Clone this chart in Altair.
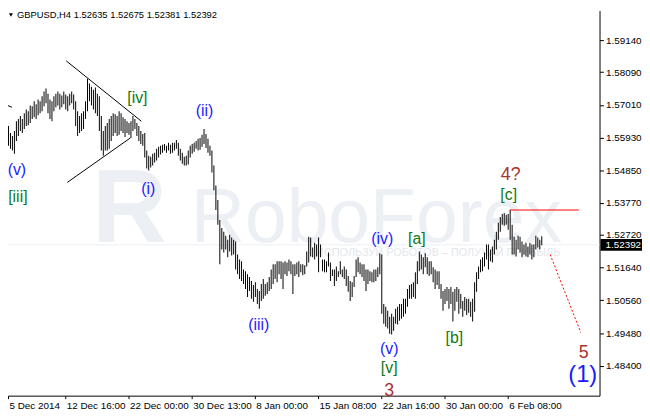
import altair as alt
import pandas as pd

# ---- data (GBPUSD H4 bars) ----
highs = [
    1.5696, 1.5680, 1.5654, 1.5631, 1.5608, 1.5598, 1.5615, 1.5647, 1.5654, 1.5664,
    1.5654, 1.5673, 1.5686, 1.5680, 1.5699, 1.5696, 1.5713, 1.5703, 1.5719, 1.5713,
    1.5729, 1.5745, 1.5755, 1.5738, 1.5719, 1.5713, 1.5729, 1.5738, 1.5745, 1.5738,
    1.5732, 1.5745, 1.5735, 1.5729, 1.5738, 1.5745, 1.5735, 1.5713, 1.5680, 1.5664,
    1.5673, 1.5680, 1.5713, 1.5787, 1.5771, 1.5761, 1.5751, 1.5758, 1.5738, 1.5729,
    1.5664, 1.5615, 1.5631, 1.5641, 1.5654, 1.5664, 1.5673, 1.5670, 1.5664, 1.5680,
    1.5673, 1.5660, 1.5654, 1.5647, 1.5641, 1.5647, 1.5664, 1.5654, 1.5641, 1.5631,
    1.5615, 1.5605, 1.5608, 1.5550, 1.5533, 1.5530, 1.5540, 1.5543, 1.5556, 1.5563,
    1.5566, 1.5569, 1.5572, 1.5566, 1.5576, 1.5569, 1.5576, 1.5576, 1.5585, 1.5576,
    1.5556, 1.5543, 1.5530, 1.5533, 1.5550, 1.5566, 1.5572, 1.5576, 1.5582, 1.5589,
    1.5592, 1.5602, 1.5621, 1.5605, 1.5589, 1.5566, 1.5550, 1.5501, 1.5435, 1.5387,
    1.5321, 1.5295, 1.5282, 1.5269, 1.5256, 1.5272, 1.5263, 1.5256, 1.5250, 1.5207,
    1.5191, 1.5185, 1.5158, 1.5152, 1.5142, 1.5133, 1.5120, 1.5107, 1.5116, 1.5093,
    1.5087, 1.5110, 1.5126, 1.5110, 1.5116, 1.5133, 1.5158, 1.5175, 1.5175, 1.5185,
    1.5185, 1.5185, 1.5181, 1.5185, 1.5181, 1.5191, 1.5185, 1.5175, 1.5175, 1.5181,
    1.5185, 1.5175, 1.5175, 1.5172, 1.5217, 1.5266, 1.5263, 1.5230, 1.5246, 1.5240,
    1.5263, 1.5240, 1.5191, 1.5191, 1.5185, 1.5214, 1.5181, 1.5158, 1.5158, 1.5168,
    1.5152, 1.5185, 1.5158, 1.5168, 1.5158, 1.5136, 1.5120, 1.5116, 1.5136, 1.5191,
    1.5198, 1.5181, 1.5175, 1.5175, 1.5158, 1.5158, 1.5152, 1.5149, 1.5158, 1.5158,
    1.5165, 1.5211, 1.5207, 1.5044, 1.5035, 1.5022, 1.5002, 1.5012, 1.5002, 1.5028,
    1.5035, 1.5044, 1.5044, 1.5061, 1.5061, 1.5093, 1.5107, 1.5110, 1.5116, 1.5149,
    1.5185, 1.5217, 1.5207, 1.5198, 1.5211, 1.5198, 1.5185, 1.5185, 1.5165, 1.5158,
    1.5152, 1.5152, 1.5110, 1.5087, 1.5093, 1.5100, 1.5093, 1.5100, 1.5084, 1.5093,
    1.5100, 1.5093, 1.5077, 1.5054, 1.5067, 1.5061, 1.5061, 1.5051, 1.5061, 1.5116,
    1.5149, 1.5168, 1.5191, 1.5198, 1.5214, 1.5240, 1.5240, 1.5224, 1.5234, 1.5256,
    1.5282, 1.5312, 1.5331, 1.5341, 1.5344, 1.5338, 1.5341, 1.5354, 1.5305, 1.5266,
    1.5256, 1.5269, 1.5266, 1.5250, 1.5240, 1.5246, 1.5234, 1.5246, 1.5240, 1.5240,
    1.5269, 1.5263, 1.5256, 1.52675,
]
lows = [
    1.5631, 1.5598, 1.5582, 1.5566, 1.5556, 1.5550, 1.5540, 1.5582, 1.5598, 1.5615,
    1.5608, 1.5621, 1.5631, 1.5634, 1.5641, 1.5654, 1.5660, 1.5654, 1.5667, 1.5673,
    1.5680, 1.5696, 1.5706, 1.5673, 1.5654, 1.5647, 1.5680, 1.5693, 1.5699, 1.5686,
    1.5693, 1.5703, 1.5686, 1.5680, 1.5699, 1.5706, 1.5686, 1.5631, 1.5598, 1.5608,
    1.5615, 1.5621, 1.5654, 1.5680, 1.5713, 1.5699, 1.5686, 1.5673, 1.5664, 1.5615,
    1.5550, 1.5533, 1.5550, 1.5550, 1.5556, 1.5582, 1.5598, 1.5608, 1.5598, 1.5602,
    1.5615, 1.5608, 1.5595, 1.5608, 1.5602, 1.5592, 1.5615, 1.5621, 1.5598, 1.5582,
    1.5572, 1.5566, 1.5527, 1.5491, 1.5484, 1.5494, 1.5501, 1.5511, 1.5517, 1.5527,
    1.5537, 1.5543, 1.5550, 1.5543, 1.5550, 1.5540, 1.5543, 1.5550, 1.5556, 1.5533,
    1.5517, 1.5507, 1.5501, 1.5501, 1.5504, 1.5527, 1.5540, 1.5546, 1.5556, 1.5550,
    1.5553, 1.5563, 1.5572, 1.5559, 1.5543, 1.5533, 1.5478, 1.5419, 1.5354, 1.5305,
    1.5175, 1.5224, 1.5214, 1.5224, 1.5198, 1.5217, 1.5204, 1.5207, 1.5158, 1.5142,
    1.5126, 1.5120, 1.5110, 1.5093, 1.5067, 1.5087, 1.5061, 1.5051, 1.5067, 1.5044,
    1.5028, 1.5054, 1.5061, 1.5071, 1.5077, 1.5087, 1.5093, 1.5110, 1.5126, 1.5116,
    1.5142, 1.5126, 1.5093, 1.5142, 1.5136, 1.5152, 1.5142, 1.5077, 1.5136, 1.5142,
    1.5133, 1.5149, 1.5139, 1.5142, 1.5168, 1.5181, 1.5201, 1.5198, 1.5191, 1.5201,
    1.5149, 1.5198, 1.5152, 1.5149, 1.5149, 1.5168, 1.5120, 1.5136, 1.5103, 1.5120,
    1.5133, 1.5142, 1.5133, 1.5126, 1.5103, 1.5084, 1.5054, 1.5067, 1.5100, 1.5133,
    1.5149, 1.5142, 1.5133, 1.5120, 1.5087, 1.5110, 1.5120, 1.5116, 1.5116, 1.5120,
    1.5133, 1.5142, 1.5012, 1.4979, 1.4969, 1.4963, 1.4946, 1.4943, 1.4956, 1.4979,
    1.4976, 1.4989, 1.4995, 1.5002, 1.5012, 1.5035, 1.5061, 1.5061, 1.5067, 1.5061,
    1.5110, 1.5152, 1.5158, 1.5142, 1.5165, 1.5142, 1.5136, 1.5142, 1.5116, 1.5093,
    1.5107, 1.5093, 1.5061, 1.5022, 1.5044, 1.5054, 1.5028, 1.5044, 1.4986, 1.5022,
    1.5051, 1.5012, 1.5028, 1.5002, 1.5022, 1.5008, 1.5015, 1.5002, 1.4986, 1.5018,
    1.5084, 1.5126, 1.5149, 1.5152, 1.5168, 1.5191, 1.5158, 1.5185, 1.5181, 1.5207,
    1.5224, 1.5256, 1.5282, 1.5305, 1.5302, 1.5305, 1.5289, 1.5256, 1.5207, 1.5207,
    1.5201, 1.5224, 1.5214, 1.5198, 1.5207, 1.5201, 1.5198, 1.5207, 1.5191, 1.5198,
    1.5224, 1.5230, 1.5224, 1.52381,
]

price_ticks = [1.59140, 1.58090, 1.57010, 1.55930, 1.54850, 1.53770, 1.52720,
               1.51640, 1.50560, 1.49480, 1.48400]
time_tick_idx = [3, 32, 64, 96, 128, 160, 192, 224, 256]
time_tick_labels = ["5 Dec 2014", "12 Dec 16:00", "22 Dec 00:00", "30 Dec 13:00",
                    "8 Jan 00:00", "15 Jan 08:00", "22 Jan 16:00", "30 Jan 00:00",
                    "6 Feb 08:00"]

last_price = 1.52392
header = "GBPUSD,H4  1.52635 1.52675 1.52381 1.52392"

# wave labels: (text, bar index, price)
blue_labels = [("(v)", 7.5, 1.5491), ("(i)", 74, 1.5429), ("(ii)", 102.5, 1.5686),
               ("(iii)", 130, 1.4979), ("(iv)", 192.5, 1.5263), ("(v)", 196, 1.4901)]
green_labels = [("[iii]", 8, 1.5400), ("[iv]", 68.5, 1.5729), ("[a]", 210, 1.5263),
                ("[v]", 196, 1.4836), ("[b]", 229, 1.4937), ("[c]", 256.5, 1.5409)]
red_labels = [("3", 196, 1.4764), ("4?", 257.5, 1.5475), ("5", 294.5, 1.4888)]
big_labels = [("(1)", 294, 1.4817)]

# trend lines: (line id, bar index, price)
triangle_pts = [("up", 32.5, 1.5846), ("up", 70.5, 1.5647),
                ("lo", 33, 1.5445), ("lo", 65, 1.5592),
                ("old", -1, 1.5709), ("old", 5, 1.5693)]
red_level_pts = [(257, 1.5354), (292, 1.5354)]
red_proj_pts = [(277.5, 1.5207), (293, 1.4950)]

# ---- layout ----
W, H = 599, 390
xs = alt.Scale(domain=[3, 302.5], nice=False, zero=False)
ys = alt.Scale(domain=[1.47415, 1.60122], nice=False, zero=False)
FONT = "Liberation Sans"
WM = "#eceff4"

label_expr = "{}[indexof({}, datum.value)]".format(
    "[" + ",".join("'%s'" % s for s in time_tick_labels) + "]",
    "[" + ",".join(str(v) for v in time_tick_idx) + "]")

X_AXIS = alt.Axis(
    values=time_tick_idx, labelExpr=label_expr, title=None, grid=False,
    orient="bottom", tickSize=3, tickColor="black", domainColor="black",
    labelFont=FONT, labelFontSize=10, labelColor="black", labelAlign="left",
    labelPadding=2, labelOffset=1, labelFlush=False, labelOverlap=False,
    labelBound=False)
Y_AXIS = alt.Axis(
    values=price_ticks, format=".5f", title=None, grid=False, orient="right",
    tickSize=4, tickColor="black", domainColor="black", labelFont=FONT,
    labelFontSize=10, labelColor="black", labelPadding=2, labelFlush=False,
    labelOverlap=False, labelBound=False)


def X(field):
    return alt.X(field, scale=xs, axis=X_AXIS)


def Y(field):
    return alt.Y(field, scale=ys, axis=Y_AXIS)


bars_df = pd.DataFrame({"i": list(range(len(highs))), "high": highs, "low": lows})
bars_df["i_end"] = bars_df["i"] + 0.5  # one pixel wide bar

bars = alt.Chart(bars_df).mark_rect(color="black", clip=True).encode(
    x=X("i:Q"), x2="i_end:Q", y=Y("low:Q"), y2="high:Q")

# watermark
wm_logo = alt.Chart(pd.DataFrame({"t": ["R"]})).mark_text(
    align="left", baseline="alphabetic", font=FONT, fontWeight="bold", fontSize=105, color=WM
).encode(x=alt.value(85), y=alt.value(234), text="t:N")
wm = alt.Chart(pd.DataFrame({"t": ["RoboForex"]})).mark_text(
    align="left", baseline="alphabetic", font=FONT, fontSize=76, color=WM
).encode(x=alt.value(185), y=alt.value(234), text="t:N")
wm_sub = alt.Chart(pd.DataFrame({"t": ["ИСПОЛЬЗУЙ РОБОТОВ – ПОЛУЧАЙ ПРИБЫЛЬ"]})).mark_text(
    align="left", baseline="middle", font=FONT, fontSize=11, color="#e3e7ec"
).encode(x=alt.value(312), y=alt.value(246), text="t:N")

bid_line = alt.Chart(pd.DataFrame({"p": [last_price]})).mark_rule(
    color="#eceff3", strokeWidth=1).encode(y=Y("p:Q"), x=alt.value(0), x2=alt.value(W))

tri_df = pd.DataFrame(triangle_pts, columns=["line", "i", "p"])
tri = alt.Chart(tri_df).mark_line(color="black", strokeWidth=1, clip=True).encode(
    x=X("i:Q"), y=Y("p:Q"), detail="line:N")

lvl = alt.Chart(pd.DataFrame(red_level_pts, columns=["i", "p"])).mark_line(
    color="#ff0000", strokeWidth=1).encode(x=X("i:Q"), y=Y("p:Q"))
proj = alt.Chart(pd.DataFrame(red_proj_pts, columns=["i", "p"])).mark_line(
    color="#ff0000", strokeWidth=1, strokeDash=[2, 2]).encode(x=X("i:Q"), y=Y("p:Q"))


def labels(items, color, size, dy):
    df = pd.DataFrame(items, columns=["t", "i", "p"])
    return alt.Chart(df).mark_text(font=FONT, fontSize=size, color=color,
                                   align="center", baseline="middle", dy=dy).encode(
        x=X("i:Q"), y=Y("p:Q"), text="t:N")


lb_blue = labels(blue_labels, "#1a1aff", 16, 1.5)
lb_green = labels(green_labels, "#0f7a12", 16, 1.5)
lb_red = labels(red_labels, "#a8322c", 18, 2)
lb_big = labels(big_labels, "#1a1aff", 24, 2)

# header
hdr_tri = alt.Chart(pd.DataFrame({"a": [0]})).mark_point(
    shape="triangle-down", filled=True, color="black", size=16, opacity=1).encode(
    x=alt.value(3), y=alt.value(4.5))
hdr = alt.Chart(pd.DataFrame({"t": [header]})).mark_text(
    align="left", baseline="middle", font=FONT, fontSize=9.5, color="black").encode(
    x=alt.value(9), y=alt.value(4.5), text="t:N")

# current price box
box_df = pd.DataFrame({"p": [last_price], "t": ["%.5f" % last_price]})
box = alt.Chart(box_df).mark_rect(color="black", yOffset=-6, y2Offset=6).encode(
    x=alt.value(W + 1), x2=alt.value(W + 43), y=Y("p:Q"), y2=alt.Y2("p:Q"))
box_txt = alt.Chart(box_df).mark_text(
    align="left", baseline="middle", font=FONT, fontSize=10, color="white").encode(
    x=alt.value(W + 6), y=Y("p:Q"), text="t:N")

chart = alt.layer(
    bars, wm_logo, wm, bid_line, wm_sub, tri, lvl, proj,
    lb_blue, lb_green, lb_red, lb_big, hdr_tri, hdr, box, box_txt
).properties(
    width=W, height=H,
    autosize=alt.AutoSizeParams(type="none"),
    padding={"left": 0, "top": 0, "right": 43, "bottom": 14},
    background="white",
).configure_view(stroke=None)

# draw the watermark beneath the bars
chart.layer = [wm_logo, wm, bid_line, wm_sub, bars, tri, lvl, proj,
               lb_blue, lb_green, lb_red, lb_big, hdr_tri, hdr, box, box_txt]

chart.save("out.html", embed_options={"renderer": "svg", "actions": False})
